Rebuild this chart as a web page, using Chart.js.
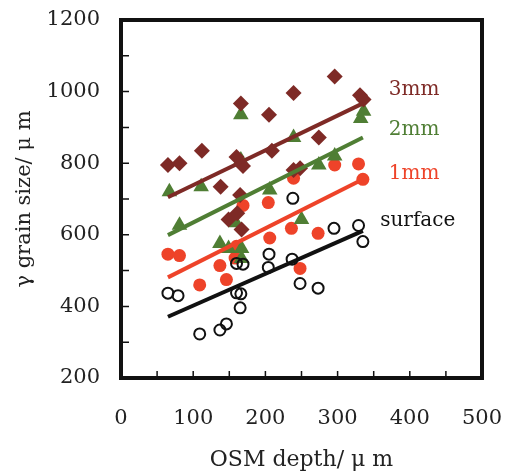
<!DOCTYPE html>
<html lang="en">
<head>
  <meta charset="UTF-8" />
  <title>gamma grain size vs OSM depth</title>
  <script src="https://cdn.jsdelivr.net/npm/chart.js"></script>
  <style>
    html, body { margin: 0; padding: 0; background: #fff; }
    #wrap { width: 510px; height: 474px; }
  </style>
</head>
<body>
  <div id="wrap"><canvas id="grainChart" width="510" height="474"></canvas></div>

  <script>
    // values: OSM depth (um) -> gamma grain size (um)
    const surfaceDepth = [65, 79, 109, 137, 146, 160, 166, 165, 160, 169, 205, 204, 237, 238, 248, 273, 295, 329, 335];
    const surfaceSize  = [437, 430, 323, 334, 351, 438, 435, 396, 520, 518, 546, 509, 532, 702, 464, 451, 618, 626, 581];

    const mm1Depth = [65, 81, 109, 137, 146, 158, 160, 169, 204, 206, 236, 239, 248, 273, 296, 329, 335];
    const mm1Size  = [546, 542, 460, 514, 475, 535, 568, 682, 690, 591, 618, 758, 506, 604, 795, 798, 755];

    const mm2Depth = [67, 81, 111, 137, 149, 159, 166, 167, 167, 166, 206, 239, 250, 274, 296, 332, 336];
    const mm2Size  = [720, 627, 734, 576, 562, 634, 809, 562, 534, 935, 725, 872, 643, 795, 820, 925, 945];

    const mm3Depth = [65, 81, 112, 138, 149, 160, 161, 165, 166, 167, 169, 205, 209, 239, 239, 248, 274, 296, 331, 336];
    const mm3Size  = [795, 800, 835, 734, 643, 817, 660, 711, 967, 615, 792, 935, 835, 996, 781, 786, 872, 1042, 990, 978];

    // fitted trend lines (end points)
    const fitDepth   = [65, 335];
    const fitSurface = [371, 611];
    const fit1mm     = [481, 755];
    const fit2mm     = [599, 872];
    const fit3mm     = [705, 967];

    // series labels at the right of the lines
    const seriesNames  = ['3mm', '2mm', '1mm', 'surface'];
    const labelDepth   = [371, 371, 371, 359];
    const labelSize    = [1004, 893, 770, 638];

    const xTicks = [0, 50, 100, 150, 200, 250, 300, 350, 400, 450, 500];
    const yTicks = [200, 300, 400, 500, 600, 700, 800, 900, 1000, 1100, 1200];

    const DARKRED = '#7e2a26';
    const GREEN = '#4f7e34';
    const RED = '#ee4329';
    const BLACK = '#111111';
    const SERIF = "'DejaVu Serif', 'Liberation Serif', serif";

    const pts = (xs, ys) => xs.map((x, i) => ({ x, y: ys[i] }));

    const framePlugin = {
      id: 'frame',
      afterDatasetsDraw(chart) {
        const { ctx, chartArea: a, scales: { x, y } } = chart;
        ctx.save();
        ctx.strokeStyle = '#111';
        // inward ticks
        ctx.lineWidth = 1.5;
        ctx.beginPath();
        xTicks.forEach(v => {
          const px = x.getPixelForValue(v);
          ctx.moveTo(px, a.bottom);
          ctx.lineTo(px, a.bottom - 7);
        });
        yTicks.forEach(v => {
          const py = y.getPixelForValue(v);
          ctx.moveTo(a.left, py);
          ctx.lineTo(a.left + 8, py);
        });
        ctx.stroke();
        // frame
        ctx.lineWidth = 4;
        ctx.strokeRect(a.left, a.top, a.right - a.left, a.bottom - a.top);
        // series labels
        const colors = [DARKRED, GREEN, RED, BLACK];
        ctx.font = '20px ' + SERIF;
        ctx.textAlign = 'left';
        ctx.textBaseline = 'middle';
        seriesNames.forEach((name, i) => {
          ctx.fillStyle = colors[i];
          ctx.fillText(name, x.getPixelForValue(labelDepth[i]), y.getPixelForValue(labelSize[i]));
        });
        ctx.restore();
      }
    };

    const lineSet = (data, color) => ({
      data: pts(fitDepth, data),
      showLine: true,
      borderColor: color,
      borderWidth: 4,
      pointRadius: 0,
      order: 0
    });

    new Chart(document.getElementById('grainChart'), {
      type: 'scatter',
      data: {
        datasets: [
          lineSet(fit3mm, DARKRED),
          lineSet(fit2mm, GREEN),
          lineSet(fit1mm, RED),
          lineSet(fitSurface, BLACK),
          {
            label: '3mm', data: pts(mm3Depth, mm3Size), pointStyle: 'rectRot',
            pointRadius: 8, backgroundColor: DARKRED, borderColor: DARKRED, borderWidth: 0, order: 1
          },
          {
            label: 'surface', data: pts(surfaceDepth, surfaceSize), pointStyle: 'circle',
            pointRadius: 5.5, backgroundColor: 'rgba(0,0,0,0)', borderColor: BLACK, borderWidth: 2, order: 2
          },
          {
            label: '2mm', data: pts(mm2Depth, mm2Size), pointStyle: 'triangle',
            pointRadius: 9, backgroundColor: GREEN, borderColor: GREEN, borderWidth: 0, order: 3
          },
          {
            label: '1mm', data: pts(mm1Depth, mm1Size), pointStyle: 'circle',
            pointRadius: 6.5, backgroundColor: RED, borderColor: RED, borderWidth: 0, order: 4
          }
        ]
      },
      options: {
        responsive: false,
        animation: false,
        devicePixelRatio: 1,
        layout: { padding: { left: 0, top: 20, right: 28, bottom: 0 } },
        plugins: { legend: { display: false }, tooltip: { enabled: false } },
        scales: {
          x: {
            type: 'linear', position: 'bottom', min: 0, max: 500,
            // fixed axis band; drop the label overflow padding so the plot box is set by layout.padding
            afterFit: s => { s.height = 96; s.paddingLeft = 0; s.paddingRight = 0; },
            grid: { display: false, drawTicks: false },
            border: { display: false },
            ticks: { stepSize: 100, padding: 28, color: '#222', font: { family: SERIF, size: 21 }, callback: v => String(v) },
            title: {
              display: true, text: 'OSM depth/ μ m', color: '#222',
              font: { family: SERIF, size: 22 }, padding: { top: 0, bottom: 1 }
            }
          },
          y: {
            type: 'linear', position: 'left', min: 200, max: 1200,
            afterFit: s => { s.width = 121; s.paddingTop = 0; s.paddingBottom = 0; },
            grid: { display: false, drawTicks: false },
            border: { display: false },
            ticks: { stepSize: 200, padding: 21, color: '#222', font: { family: SERIF, size: 21 }, callback: v => String(v) },
            title: {
              display: true, text: 'γ grain size/ μ m', color: '#222',
              font: { family: SERIF, size: 21 }, padding: { top: 12, bottom: 0 }
            }
          }
        }
      },
      plugins: [framePlugin]
    });
  </script>
</body>
</html>
